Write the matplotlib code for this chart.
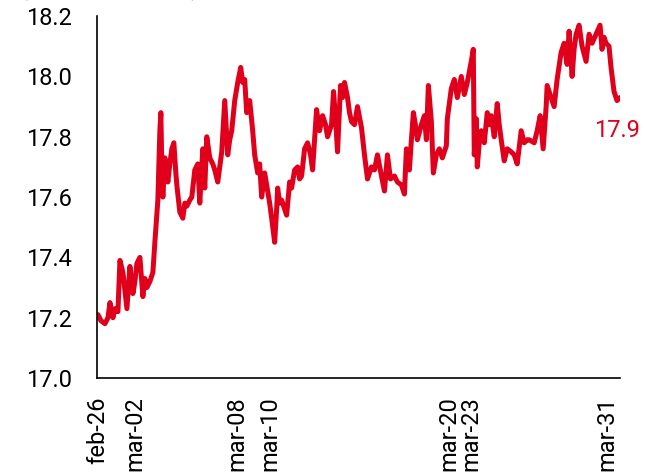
import matplotlib
matplotlib.use("Agg")
import matplotlib.pyplot as plt

t = [1, 4, 8, 11, 13, 16, 18, 21, 23, 26, 28, 30, 33, 36, 38, 40, 43, 46, 48, 50,
     53, 56, 58, 60, 61, 63, 64, 65, 66, 68, 71, 73, 75, 77, 79, 80, 83, 86, 88, 90,
     93, 95, 98, 101, 103, 106, 108, 110, 113, 116, 118, 121, 125, 128, 131, 133, 135, 138, 141, 144,
     146, 148, 150, 153, 156, 158, 161, 163, 165, 168, 171, 173, 175, 178, 180, 181, 183, 185, 188, 190,
     193, 195, 198, 201, 203, 205, 208, 211, 214, 216, 220, 223, 226, 229, 231, 235, 237, 239, 241, 244,
     246, 248, 251, 253, 255, 258, 261, 265, 268, 271, 275, 278, 281, 285, 288, 291, 294, 298, 301, 305,
     308, 310, 313, 315, 317, 319, 321, 325, 328, 330, 332, 335, 337, 340, 343, 346, 350, 351, 355, 358,
     361, 365, 368, 371, 375, 377, 378, 380, 381, 383, 385, 388, 391, 393, 395, 398, 401, 403, 405, 408,
     411, 415, 418, 421, 425, 428, 431, 433, 438, 441, 444, 447, 450, 451, 455, 458, 461, 465, 468, 471,
     473, 476, 478, 480, 483, 486, 490, 493, 496, 500, 504, 506, 508, 510, 513, 515, 518, 521, 524]
values = [17.21, 17.19, 17.18, 17.20, 17.25, 17.20, 17.23, 17.22, 17.39, 17.35, 17.29, 17.23, 17.37, 17.28, 17.32, 17.38, 17.40, 17.27, 17.33, 17.30,
          17.32, 17.35, 17.45, 17.54, 17.59, 17.82, 17.88, 17.69, 17.60, 17.73, 17.65, 17.71, 17.76, 17.78, 17.68, 17.64, 17.55, 17.53, 17.58, 17.57,
          17.59, 17.60, 17.69, 17.71, 17.58, 17.76, 17.63, 17.80, 17.73, 17.71, 17.69, 17.65, 17.75, 17.92, 17.74, 17.79, 17.82, 17.92, 17.98, 18.03,
          17.98, 17.99, 17.88, 17.92, 17.82, 17.74, 17.68, 17.71, 17.60, 17.68, 17.62, 17.58, 17.53, 17.45, 17.56, 17.63, 17.58, 17.59, 17.56, 17.54,
          17.65, 17.63, 17.69, 17.70, 17.66, 17.67, 17.76, 17.78, 17.74, 17.69, 17.89, 17.82, 17.87, 17.84, 17.80, 17.84, 17.95, 17.86, 17.75, 17.97,
          17.93, 17.98, 17.93, 17.88, 17.85, 17.84, 17.90, 17.83, 17.74, 17.66, 17.70, 17.69, 17.74, 17.67, 17.62, 17.74, 17.66, 17.67, 17.65, 17.64,
          17.61, 17.76, 17.69, 17.79, 17.88, 17.84, 17.79, 17.84, 17.87, 17.79, 17.97, 17.85, 17.68, 17.74, 17.76, 17.73, 17.77, 17.86, 17.96, 17.99,
          17.93, 18.00, 17.94, 17.98, 18.05, 18.09, 17.74, 17.86, 17.70, 17.78, 17.82, 17.78, 17.88, 17.84, 17.87, 17.80, 17.91, 17.84, 17.79, 17.72,
          17.76, 17.75, 17.74, 17.71, 17.82, 17.78, 17.79, 17.79, 17.78, 17.82, 17.87, 17.76, 17.90, 17.97, 17.93, 17.90, 17.99, 18.08, 18.11, 18.04,
          18.15, 18.00, 18.09, 18.14, 18.17, 18.10, 18.05, 18.14, 18.11, 18.14, 18.17, 18.09, 18.13, 18.11, 18.10, 18.03, 17.95, 17.92, 17.93]

tick_pos = [1, 38, 140, 173, 353, 375, 511]
tick_labels = ["feb-26", "mar-02", "mar-08", "mar-10", "mar-20", "mar-23", "mar-31"]
y_ticks = [17.0, 17.2, 17.4, 17.6, 17.8, 18.0, 18.2]
last_label = "17.9"

red = "#E0001B"
plt.rcParams['font.family'] = ['Roboto', 'DejaVu Sans']

fig = plt.figure(figsize=(6.57, 4.75), dpi=100)
ax = fig.add_axes([0.1476, 0.2042, 0.7961, 0.7618])
ax.plot(t, values, color=red, lw=3.6, solid_joinstyle='round', solid_capstyle='round')
ax.set_xlim(0, 524)
ax.set_ylim(17.0, 18.2)
ax.set_yticks(y_ticks)
ax.set_yticklabels([f"{v:.1f}" for v in y_ticks])
ax.set_xticks(tick_pos)
ax.set_xticklabels(tick_labels, rotation=90)
ax.tick_params(axis='both', length=0, labelsize=17)
ax.tick_params(axis='y', pad=18)
ax.tick_params(axis='x', pad=13)
for s in ['top', 'right']:
    ax.spines[s].set_visible(False)
for s in ['left', 'bottom']:
    ax.spines[s].set_linewidth(1.2)
    ax.spines[s].set_color('black')

ax.text(498, 17.82, last_label, color=red, fontsize=17, ha='left', va='center', clip_on=False)
fig.text(0.03, 1.012, "(pesos por dólar)", fontsize=17, ha='left', va='baseline')

fig.savefig("out.png", dpi=100)
